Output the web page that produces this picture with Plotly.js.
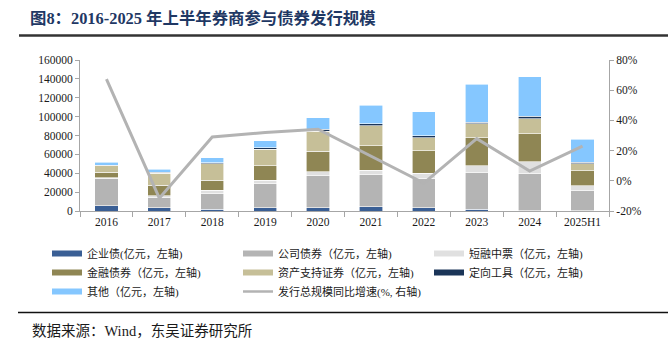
<!DOCTYPE html>
<html>
<head>
<meta charset="utf-8">
<script src="https://cdn.plot.ly/plotly-3.0.1.min.js"></script>
<style>
  html, body { margin: 0; padding: 0; background: #fff; }
  #chart { width: 671px; height: 341px; }
</style>
</head>
<body>
<div id="chart"></div>
<script>
// ---- data ----
const categories = ['2016','2017','2018','2019','2020','2021','2022','2023','2024','2025H1'];
const enterpriseBonds = [5800, 3200, 1800, 3200, 3700, 4600, 3500, 2100, 500, 200];      // 企业债
const corporateBonds  = [28400, 11600, 16900, 25800, 33500, 33700, 30800, 38200, 39100, 21300]; // 公司债券
const shortMTN        = [1100, 1400, 3200, 3500, 4300, 5100, 5600, 7600, 12500, 5500];   // 短融中票
const financialBonds  = [5700, 11300, 10900, 15200, 21900, 25600, 23800, 29600, 30000, 15900]; // 金融债券
const abs             = [6700, 12400, 17300, 17600, 21000, 21200, 14000, 14700, 15500, 7200]; // 资产支持证券
const directional     = [1000, 1100, 1100, 1500, 2100, 2400, 1900, 2100, 2700, 1400];    // 定向工具
const others          = [2900, 3500, 5300, 7400, 12400, 19700, 25600, 39900, 42000, 24400]; // 其他
const growthPct       = [67.4, -11.5, 29, 32, 34.2, 16.5, -1.5, 27.9, 6.5, 23];          // 同比增速 %
const rightTickVals   = [-20, 0, 20, 40, 60, 80];
const rightTickText   = ['-20%', '0%', '20%', '40%', '60%', '80%'];

const seriesNames = ['企业债(亿元，左轴)', '公司债券（亿元，左轴)', '短融中票（亿元，左轴)',
                     '金融债券（亿元，左轴)', '资产支持证券（亿元，左轴)', '定向工具（亿元，左轴)',
                     '其他（亿元，左轴)'];
const lineName = '发行总规模同比增速(%, 右轴)';
const seriesValues = [enterpriseBonds, corporateBonds, shortMTN, financialBonds, abs, directional, others];
const seriesColors = ['#3A5F95', '#B4B4B4', '#E0E0E0', '#8F8654', '#C6BF98', '#1B3558', '#85C7FF'];

// ---- geometry helpers (plot area: l=80, r=609, t=60, b=211) ----
const W = 671, H = 341, L = 80, R = 609, T = 60, B = 211;
const px = x => (x - L) / (R - L);
const py = y => (B - y) / (B - T);

const SERIF = 'Liberation Serif, "Noto Sans CJK SC", serif';
const TXT = '#1a1a1a';

const traces = [];
// stacked bars (legend shown through wide swatch entries below)
seriesValues.forEach((vals, i) => {
  traces.push({
    type: 'bar', x: categories, y: vals, name: seriesNames[i],
    marker: { color: seriesColors[i], line: { color: '#ffffff', width: 0.6 } },
    showlegend: false, legendgroup: 'g' + i, hoverinfo: 'x+y+name'
  });
});
// growth line on right axis
traces.push({
  type: 'scatter', mode: 'lines', x: categories, y: growthPct, yaxis: 'y2',
  name: lineName, line: { color: '#B3B3B3', width: 3 }, showlegend: false, legendgroup: 'gl'
});
// legend swatch entries (no marks drawn)
seriesNames.forEach((n, i) => {
  traces.push({ type: 'scatter', mode: 'lines', x: [null], y: [null], name: n,
    line: { color: seriesColors[i], width: 6 }, legendgroup: 'g' + i, hoverinfo: 'skip' });
});
traces.push({ type: 'scatter', mode: 'lines', x: [null], y: [null], name: lineName, yaxis: 'y2',
  line: { color: '#B3B3B3', width: 2.5 }, legendgroup: 'gl', hoverinfo: 'skip' });

const axisGrey = '#A6A6A6';
const layout = {
  width: W, height: H,
  margin: { l: L, r: W - R, t: T, b: H - B, autoexpand: false },
  paper_bgcolor: '#fff', plot_bgcolor: '#fff',
  font: { family: SERIF, size: 11.5, color: TXT },
  barmode: 'stack', bargap: 0.56,
  title: {
    text: '<b>图8：2016-2025 年上半年券商参与债券发行规模</b>',
    xref: 'container', yref: 'container', x: 30 / W, xanchor: 'left',
    y: 1 - 18 / H, yanchor: 'middle',
    font: { family: 'Liberation Serif, "Noto Sans CJK SC", serif', size: 16.4, color: '#1F3864' }
  },
  xaxis: {
    type: 'category', tickson: 'boundaries', ticks: 'outside', ticklen: 5, tickcolor: axisGrey,
    showline: true, linecolor: axisGrey, linewidth: 1, showgrid: false, zeroline: false,
    tickfont: { family: SERIF, size: 11.5, color: TXT }, fixedrange: true
  },
  yaxis: {
    range: [0, 160000], dtick: 20000, tickformat: 'd', ticks: 'outside', ticklen: 4,
    tickcolor: axisGrey, showline: true, linecolor: axisGrey, linewidth: 1,
    showgrid: false, zeroline: false,
    tickfont: { family: SERIF, size: 11.5, color: TXT }
  },
  yaxis2: {
    overlaying: 'y', side: 'right', range: [-20, 80], tickmode: 'array',
    tickvals: rightTickVals, ticktext: rightTickText, ticks: 'outside', ticklen: 4,
    tickcolor: axisGrey, showline: true, linecolor: axisGrey, linewidth: 1,
    showgrid: false, zeroline: false,
    tickfont: { family: SERIF, size: 11.5, color: TXT }
  },
  legend: {
    orientation: 'h', traceorder: 'normal', x: px(47), xanchor: 'left',
    y: py(239), yanchor: 'top', entrywidth: 146, entrywidthmode: 'pixels',
    font: { family: SERIF, size: 11, color: TXT }, bgcolor: 'rgba(0,0,0,0)'
  },
  shapes: [
    { type: 'line', xref: 'paper', yref: 'paper', x0: px(19), x1: px(668), y0: py(35.5), y1: py(35.5),
      line: { color: '#333333', width: 2.5 } },
    { type: 'line', xref: 'paper', yref: 'paper', x0: px(18), x1: px(668), y0: py(312.5), y1: py(312.5),
      line: { color: '#111111', width: 1.5 } }
  ],
  annotations: [
    { xref: 'paper', yref: 'paper', x: px(30), y: py(331), xanchor: 'left', yanchor: 'middle',
      text: '数据来源：Wind，东吴证券研究所', showarrow: false,
      font: { family: SERIF, size: 14.5, color: TXT } }
  ]
};

Plotly.newPlot('chart', traces, layout, { displayModeBar: false, staticPlot: true });
</script>
</body>
</html>
